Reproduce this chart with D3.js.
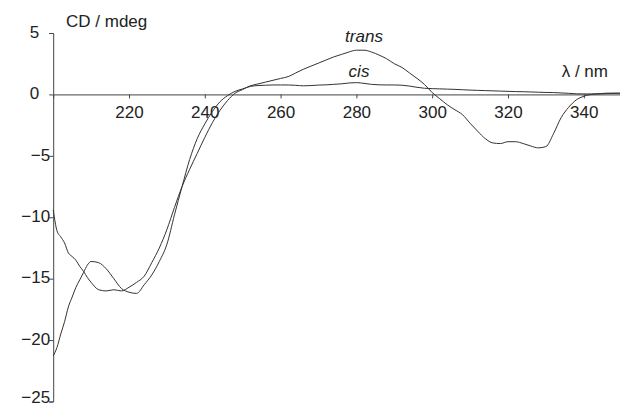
<!DOCTYPE html>
<html>
<head>
<meta charset="utf-8">
<script src="https://d3js.org/d3.v7.min.js"></script>
<style>
	body { margin: 0; background: #fff; }
	text { font-family: "Liberation Sans", Arial, sans-serif; fill: #222; }
</style>
</head>
<body>
<div id="chart"></div>
<script>
// wavelengths (nm) shared by both spectra
var wavelengths = [200, 201, 202, 203, 204, 205, 206, 207, 208, 209, 210,
	212, 214, 216, 218, 220, 222, 224, 226, 228, 230, 232, 234, 236, 238, 240,
	242, 244, 246, 248, 250, 252, 254, 256, 258, 260, 262, 264, 266, 268, 270,
	272, 274, 276, 278, 280, 282, 284, 286, 288, 290, 292, 294, 296, 298, 300,
	302, 304, 306, 308, 310, 312, 314, 316, 318, 320, 322, 324, 326, 328, 330,
	332, 334, 336, 338, 340, 342, 344, 346, 348, 350];

var transCD = [-9.4, -11.1, -11.6, -12.1, -12.9, -13.2, -13.5, -14.0, -14.4, -14.9, -15.3,
	-15.9, -16.0, -15.9, -16.0, -15.7, -15.3, -14.8, -13.7, -12.5, -11.0, -9.2, -7.5, -6.1, -4.8, -3.5,
	-2.3, -1.3, -0.5, 0.1, 0.4, 0.7, 0.85, 1.0, 1.15, 1.3, 1.45, 1.75, 2.05, 2.3, 2.55,
	2.8, 3.05, 3.25, 3.45, 3.6, 3.6, 3.45, 3.2, 2.9, 2.5, 2.2, 1.75, 1.3, 0.8, 0.15,
	-0.35, -0.85, -1.25, -1.65, -2.35, -3.0, -3.6, -3.95, -4.0, -3.85, -3.85, -4.0, -4.2, -4.35, -4.25,
	-3.2, -1.9, -1.05, -0.45, -0.15, 0.0, 0.05, 0.1, 0.1, 0.1];

var cisCD = [-21.3, -20.6, -19.5, -18.5, -17.3, -16.5, -15.7, -15.1, -14.5, -13.9, -13.6,
	-13.7, -14.2, -15.0, -15.8, -16.1, -16.2, -15.5, -14.7, -13.6, -12.2, -9.8, -7.5, -5.3, -3.6, -2.4,
	-1.4, -0.6, -0.1, 0.25, 0.45, 0.65, 0.72, 0.75, 0.77, 0.77, 0.77, 0.74, 0.7, 0.72, 0.76,
	0.78, 0.82, 0.86, 0.93, 0.96, 0.9, 0.82, 0.78, 0.77, 0.77, 0.75, 0.68, 0.58, 0.5, 0.47,
	0.45, 0.43, 0.41, 0.38, 0.35, 0.33, 0.31, 0.29, 0.27, 0.25, 0.23, 0.22, 0.2, 0.18, 0.16,
	0.15, 0.12, 0.09, 0.05, 0.04, 0.04, 0.05, 0.07, 0.09, 0.1];

var xTicks = [220, 240, 260, 280, 300, 320, 340];
var yTicks = [5, 0, -5, -10, -15, -20, -25];

var width = 620,
	height = 408;

var xScale = d3.scaleLinear()
	.domain([200, 350])
	.range([53.2, 621.7]);

var yScale = d3.scaleLinear()
	.domain([-25, 5])
	.range([401.5, 33]);

var svg = d3.select("#chart").append("svg")
	.attr("width", width)
	.attr("height", height);

// x axis sits on the zero line
var xAxis = svg.append("g")
	.attr("transform", "translate(0," + yScale(0) + ")")
	.call(d3.axisBottom(xScale).tickValues(xTicks).tickSize(4).tickPadding(8));

var yAxis = svg.append("g")
	.attr("transform", "translate(" + xScale(200) + ",0)")
	.call(d3.axisLeft(yScale).tickValues(yTicks).tickSize(4).tickPadding(3));

[xAxis, yAxis].forEach(function(ax){
	ax.select(".domain").attr("stroke", "#444").attr("stroke-width", 1);
	ax.selectAll(".tick line").attr("stroke", "#444");
	ax.selectAll("text")
		.style("font-size", "17px")
		.attr("fill", "#222");
});

// the non-negative labels sit further from the axis in the original,
// bottom label is nudged up so it stays inside the picture
yAxis.selectAll(".tick text")
	.attr("x", function(d){ return d >= 0 ? -14 : -3; })
	.attr("dy", function(d){ return d === -25 ? "0.05em" : "0.25em"; });

var line = d3.line()
	.x(function(d){ return xScale(d[0]); })
	.y(function(d){ return yScale(d[1]); })
	.curve(d3.curveMonotoneX);

[transCD, cisCD].forEach(function(series){
	svg.append("path")
		.datum(wavelengths.map(function(w, i){ return [w, series[i]]; }))
		.attr("fill", "none")
		.attr("stroke", "#333")
		.attr("stroke-width", 1)
		.attr("d", line);
});

// labels
svg.append("text")
	.attr("x", 66)
	.attr("y", 27)
	.style("font-size", "17px")
	.text("CD / mdeg");

svg.append("text")
	.attr("x", 608)
	.attr("y", 77)
	.attr("text-anchor", "end")
	.style("font-size", "17px")
	.text("λ / nm");

svg.append("text")
	.attr("x", 364)
	.attr("y", 42)
	.attr("text-anchor", "middle")
	.style("font-size", "17px")
	.style("font-style", "italic")
	.text("trans");

svg.append("text")
	.attr("x", 359)
	.attr("y", 77)
	.attr("text-anchor", "middle")
	.style("font-size", "17px")
	.style("font-style", "italic")
	.text("cis");
</script>
</body>
</html>
